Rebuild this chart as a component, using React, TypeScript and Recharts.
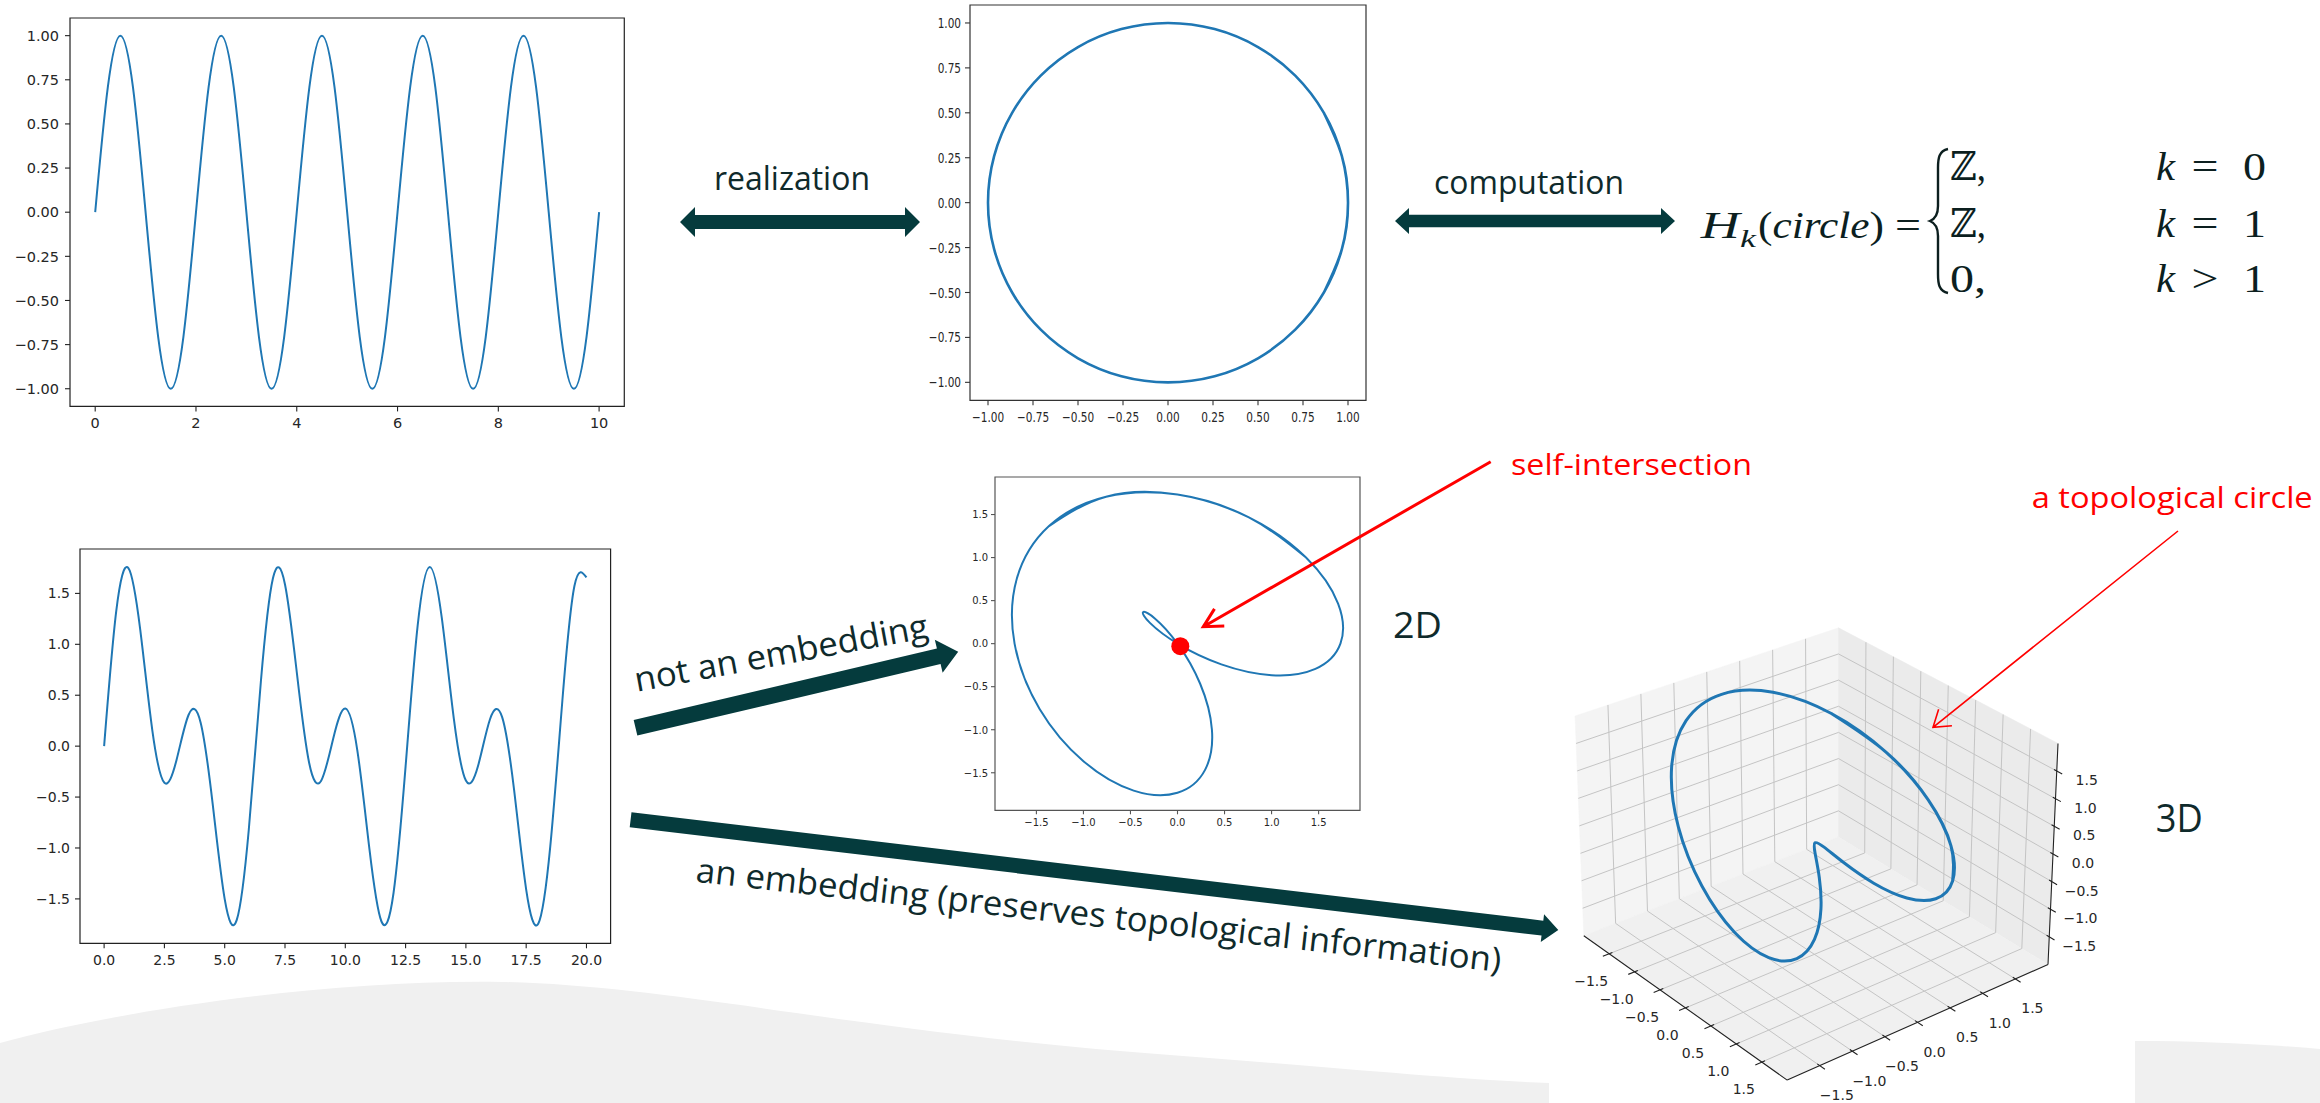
import React from "react";
import {
  LineChart,
  Line,
  XAxis,
  YAxis,
  ReferenceArea,
  ReferenceDot,
  ScatterChart,
  Scatter,
} from "recharts";

// ---- data -------------------------------------------------------------

// periodic signal, sampled every quarter unit
const waveT = [
  0, 0.25, 0.5, 0.75, 1, 1.25, 1.5, 1.75, 2, 2.25, 2.5, 2.75, 3, 3.25, 3.5, 3.75, 4, 4.25, 4.5, 4.75, 5,
  5.25, 5.5, 5.75, 6, 6.25, 6.5, 6.75, 7, 7.25, 7.5, 7.75, 8, 8.25, 8.5, 8.75, 9, 9.25, 9.5, 9.75, 10,
];
const waveY = [
  0, 0.707, 1, 0.707, 0, -0.707, -1, -0.707,
  0, 0.707, 1, 0.707, 0, -0.707, -1, -0.707,
  0, 0.707, 1, 0.707, 0, -0.707, -1, -0.707,
  0, 0.707, 1, 0.707, 0, -0.707, -1, -0.707,
  0, 0.707, 1, 0.707, 0, -0.707, -1, -0.707,
  0,
];

// its realization as a circle (15 degree steps, a little overlap to close the loop)
const circleX = [
  0.866, 0.966, 1, 0.966, 0.866, 0.707, 0.5, 0.259, 0, -0.259, -0.5, -0.707, -0.866, -0.966, -1,
  -0.966, -0.866, -0.707, -0.5, -0.259, 0, 0.259, 0.5, 0.707, 0.866, 0.966, 1, 0.966, 0.866,
];
const circleY = [
  -0.5, -0.259, 0, 0.259, 0.5, 0.707, 0.866, 0.966, 1, 0.966, 0.866, 0.707, 0.5, 0.259, 0,
  -0.259, -0.5, -0.707, -0.866, -0.966, -1, -0.966, -0.866, -0.707, -0.5, -0.259, 0, 0.259, 0.5,
];

// two-frequency signal, sampled every half unit
const signalT = [
  0, 0.5, 1, 1.5, 2, 2.5, 3, 3.5, 4, 4.5, 5, 5.5, 6, 6.5, 7, 7.5, 8, 8.5, 9, 9.5, 10,
  10.5, 11, 11.5, 12, 12.5, 13, 13.5, 14, 14.5, 15, 15.5, 16, 16.5, 17, 17.5, 18, 18.5, 19, 19.5, 20,
];
const signalY = [
  0, 1.321, 1.751, 1.139, 0.153, -0.36, -0.138, 0.306, 0.233, -0.565, -1.503, -1.706, -0.816, 0.635,
  1.648, 1.588, 0.702, -0.163, -0.339, 0.075, 0.369, -0.043, -1.009, -1.722, -1.442, -0.199, 1.183,
  1.76, 1.262, 0.271, -0.338, -0.198, 0.264, 0.287, -0.432, -1.408, -1.743, -0.982, 0.446, 1.572, 1.658,
];

// delay coordinates of the signal over one period (15 degree steps, overlapping ends)
const embedX = [
  -1.366, -0.759, 0, 0.759, 1.366, 1.707, 1.732, 1.466, 1, 0.466, 0, -0.293, -0.366, -0.241, 0,
  0.241, 0.366, 0.293, 0, -0.466, -1, -1.466, -1.732, -1.707, -1.366, -0.759, 0, 0.759, 1.366,
];
const embedY = [
  1.366, 1.707, 1.732, 1.466, 1, 0.466, 0, -0.293, -0.366, -0.241, 0, 0.241, 0.366, 0.293, 0,
  -0.466, -1, -1.466, -1.732, -1.707, -1.366, -0.759, 0, 0.759, 1.366, 1.707, 1.732, 1.466, 1,
];
const embedZ = [
  1, 0.466, 0, -0.293, -0.366, -0.241, 0, 0.241, 0.366, 0.293, 0, -0.466, -1, -1.466, -1.732,
  -1.707, -1.366, -0.759, 0, 0.759, 1.366, 1.707, 1.732, 1.466, 1, 0.466, 0, -0.293, -0.366,
];
const crossing = { x: 0.03, y: -0.03 };

const waveTicksX = [0, 2, 4, 6, 8, 10];
const unitTicks = [-1, -0.75, -0.5, -0.25, 0, 0.25, 0.5, 0.75, 1];
const signalTicksX = [0, 2.5, 5, 7.5, 10, 12.5, 15, 17.5, 20];
const halfTicks = [-1.5, -1, -0.5, 0, 0.5, 1, 1.5];

// ---- 2D panels ------------------------------------------------------------

const TICK_FONT = "'DejaVu Sans', sans-serif";
const BLUE = "#1f77b4";

function fmt(v: number, digits: number) {
  const s = Math.abs(v).toFixed(digits);
  return v < 0 ? "\u2212" + s : s;
}

function makeTick(kind: "x" | "y", digits: number, size: number, squeeze: number) {
  return (props: any) => {
    const { x, y, payload } = props;
    return (
      <g transform={`translate(${x},${y}) scale(${squeeze},1)`}>
        <text
          x={0}
          y={0}
          dy={kind === "x" ? "0.76em" : "0.36em"}
          textAnchor={kind === "x" ? "middle" : "end"}
          fontFamily={TICK_FONT}
          fontSize={size}
          fill="#262626"
        >
          {fmt(payload.value, digits)}
        </text>
      </g>
    );
  };
}

type Box = { x: number; y: number; w: number; h: number };
type PanelProps = {
  box: Box;
  data: { x: number; y: number }[];
  xDomain: [number, number];
  yDomain: [number, number];
  xTicks: number[];
  yTicks: number[];
  digitsX: number;
  digitsY: number;
  font: number;
  squeeze?: number;
  tick: number;
  gapX: number;
  gapY: number;
  frame: string;
  lineWidth: number;
  children?: React.ReactNode;
};

const AX_W = 70;
const AX_H = 34;
const PAD_L = 80;
const PAD_T = 12;
const PAD_R = 12;
const PAD_B = 44;

function Panel(p: PanelProps) {
  const sq = p.squeeze ?? 1;
  return (
    <div style={{ position: "absolute", left: p.box.x - PAD_L, top: p.box.y - PAD_T }}>
      <LineChart
        width={p.box.w + PAD_L + PAD_R}
        height={p.box.h + PAD_T + PAD_B}
        data={p.data}
        margin={{ top: PAD_T, right: PAD_R, bottom: PAD_B - AX_H, left: PAD_L - AX_W }}
      >
        <XAxis
          type="number"
          dataKey="x"
          domain={p.xDomain}
          ticks={p.xTicks}
          interval={0}
          allowDataOverflow
          height={AX_H}
          axisLine={false}
          tickSize={p.tick}
          tickMargin={p.gapX}
          tickLine={{ stroke: p.frame, strokeWidth: 1.1 }}
          tick={makeTick("x", p.digitsX, p.font, sq)}
        />
        <YAxis
          type="number"
          domain={p.yDomain}
          ticks={p.yTicks}
          interval={0}
          allowDataOverflow
          width={AX_W}
          axisLine={false}
          tickSize={p.tick}
          tickMargin={p.gapY}
          tickLine={{ stroke: p.frame, strokeWidth: 1.1 }}
          tick={makeTick("y", p.digitsY, p.font, sq)}
        />
        <ReferenceArea
          x1={p.xDomain[0]}
          x2={p.xDomain[1]}
          y1={p.yDomain[0]}
          y2={p.yDomain[1]}
          fill="none"
          stroke={p.frame}
          strokeWidth={1.2}
          ifOverflow="visible"
        />
        <Line
          dataKey="y"
          type="natural"
          stroke={BLUE}
          strokeWidth={p.lineWidth}
          dot={false}
          isAnimationActive={false}
        />
        {p.children}
      </LineChart>
    </div>
  );
}

// ---- 3D panel -------------------------------------------------------------

const PANE = 2; // half extent of the 3D panes in data units
// screen position of each corner of the 3D box, keyed by the sign of x, y, z
const CORNER: Record<string, [number, number]> = {
  "---": [1583.8, 935.7],
  "+--": [1787.2, 1080.1],
  "++-": [2048, 964.5],
  "-+-": [1838.5, 837],
  "--+": [1575, 716],
  "+-+": [1791, 838],
  "+++": [2058, 743.4],
  "-++": [1838.5, 627.8],
};

function lerp(a: [number, number], b: [number, number], t: number): [number, number] {
  return [a[0] + (b[0] - a[0]) * t, a[1] + (b[1] - a[1]) * t];
}

function project(x: number, y: number, z: number) {
  const u = (x + PANE) / (2 * PANE);
  const v = (y + PANE) / (2 * PANE);
  const w = (z + PANE) / (2 * PANE);
  const a = lerp(CORNER["---"], CORNER["+--"], u);
  const b = lerp(CORNER["-+-"], CORNER["++-"], u);
  const c = lerp(CORNER["--+"], CORNER["+-+"], u);
  const d = lerp(CORNER["-++"], CORNER["+++"], u);
  const p = lerp(lerp(a, b, v), lerp(c, d, v), w);
  return { x: p[0], y: p[1] };
}

const noMarker = () => <g />;

function segments(stroke: string, width: number) {
  return (props: any) => {
    const pts = props.points || [];
    let d = "";
    for (let i = 0; i + 1 < pts.length; i += 2) {
      d += `M${pts[i].x},${pts[i].y}L${pts[i + 1].x},${pts[i + 1].y}`;
    }
    return <path d={d} stroke={stroke} strokeWidth={width} fill="none" />;
  };
}

const LABEL_OFFSET: Record<string, [number, number]> = {
  x: [-18, 27],
  y: [17, 29.5],
  z: [30, 9],
};

function tickLabel3d(props: any) {
  const { cx, cy, payload } = props;
  const [dx, dy] = LABEL_OFFSET[payload.axis];
  return (
    <text
      x={cx + dx}
      y={cy + dy}
      dy="0.36em"
      textAnchor="middle"
      fontFamily={TICK_FONT}
      fontSize={14}
      fill="#262626"
    >
      {fmt(payload.value, 1)}
    </text>
  );
}

const V_LEFT = 1549;
const V_TOP = 560;
const V_W = 620;
const V_H = 543;

function Cube() {
  const L = PANE;
  const P = project;
  const panes = [
    { fill: "#f4f4f4", pts: [P(-L, -L, -L), P(-L, L, -L), P(-L, L, L), P(-L, -L, L)] },
    { fill: "#ebebeb", pts: [P(-L, L, -L), P(L, L, -L), P(L, L, L), P(-L, L, L)] },
    { fill: "#f0f0f0", pts: [P(-L, -L, -L), P(L, -L, -L), P(L, L, -L), P(-L, L, -L)] },
  ];

  const grid: { x: number; y: number }[] = [];
  halfTicks.forEach((t) => {
    grid.push(P(t, -L, -L), P(t, L, -L));
    grid.push(P(-L, t, -L), P(L, t, -L));
    grid.push(P(-L, t, -L), P(-L, t, L));
    grid.push(P(-L, -L, t), P(-L, L, t));
    grid.push(P(t, L, -L), P(t, L, L));
    grid.push(P(-L, L, t), P(L, L, t));
  });

  const axes = [P(-L, -L, -L), P(L, -L, -L), P(L, -L, -L), P(L, L, -L), P(L, L, -L), P(L, L, L)];

  const tickSegs: { x: number; y: number }[] = [];
  const labels: { x: number; y: number; axis: string; value: number }[] = [];
  halfTicks.forEach((t) => {
    tickSegs.push(P(t, -L + 0.05, -L), P(t, -L - 0.1, -L));
    tickSegs.push(P(L - 0.05, t, -L), P(L + 0.1, t, -L));
    tickSegs.push(P(L - 0.05, L, t), P(L + 0.1, L, t));
    labels.push({ ...P(t, -L, -L), axis: "x", value: t });
    labels.push({ ...P(L, t, -L), axis: "y", value: t });
    labels.push({ ...P(L, L, t), axis: "z", value: t });
  });

  const curve = embedX.map((x, i) => P(x, embedY[i], embedZ[i]));

  return (
    <div style={{ position: "absolute", left: V_LEFT, top: V_TOP }}>
      <ScatterChart width={V_W} height={V_H} margin={{ top: 0, right: 0, bottom: 0, left: 0 }}>
        <XAxis type="number" dataKey="x" domain={[V_LEFT, V_LEFT + V_W]} hide />
        <YAxis type="number" dataKey="y" domain={[V_TOP, V_TOP + V_H]} reversed hide />
        {panes.map((p, i) => (
          <Scatter
            key={i}
            data={p.pts}
            shape={noMarker}
            line={{ fill: p.fill, stroke: p.fill, strokeWidth: 0.5 }}
            lineJointType="linearClosed"
            isAnimationActive={false}
          />
        ))}
        <Scatter data={grid} shape={noMarker} line={segments("#c4c4c4", 1)} isAnimationActive={false} />
        <Scatter data={axes} shape={noMarker} line={segments("#222", 1.1)} isAnimationActive={false} />
        <Scatter data={tickSegs} shape={noMarker} line={segments("#222", 1.1)} isAnimationActive={false} />
        <Scatter data={labels} shape={tickLabel3d} isAnimationActive={false} />
        <Scatter
          data={curve}
          shape={noMarker}
          line={{ stroke: BLUE, strokeWidth: 3 }}
          lineJointType="natural"
          isAnimationActive={false}
        />
      </ScatterChart>
    </div>
  );
}

// ---- slide decoration ------------------------------------------------------

const ARROW = "#053b3d";
const INK = "#0f2a2b";
const RED = "#ff0000";
const SANS = "'Open Sans', 'Noto Sans', sans-serif";
const SERIF = "'Liberation Serif', 'DejaVu Serif', serif";

type Pt = [number, number];

function arrowPoints(tail: Pt, tip: Pt, shaft: number, head: number, headLen: number) {
  const dx = tip[0] - tail[0];
  const dy = tip[1] - tail[1];
  const len = Math.hypot(dx, dy);
  const ux = dx / len;
  const uy = dy / len;
  const nx = -uy;
  const ny = ux;
  const bx = tip[0] - ux * headLen;
  const by = tip[1] - uy * headLen;
  const pts: Pt[] = [
    [tail[0] + nx * shaft, tail[1] + ny * shaft],
    [bx + nx * shaft, by + ny * shaft],
    [bx + nx * head, by + ny * head],
    tip,
    [bx - nx * head, by - ny * head],
    [bx - nx * shaft, by - ny * shaft],
    [tail[0] - nx * shaft, tail[1] - ny * shaft],
  ];
  return pts.map((p) => p.join(",")).join(" ");
}

function doubleArrow(x1: number, x2: number, y: number, shaft: number, head: number, headLen: number) {
  const pts: Pt[] = [
    [x1, y],
    [x1 + headLen, y - head],
    [x1 + headLen, y - shaft],
    [x2 - headLen, y - shaft],
    [x2 - headLen, y - head],
    [x2, y],
    [x2 - headLen, y + head],
    [x2 - headLen, y + shaft],
    [x1 + headLen, y + shaft],
    [x1 + headLen, y + head],
  ];
  return pts.map((p) => p.join(",")).join(" ");
}

function openArrow(from: Pt, tip: Pt, arm: number, deg: number) {
  const a = Math.atan2(from[1] - tip[1], from[0] - tip[0]);
  const r = (deg * Math.PI) / 180;
  const p1: Pt = [tip[0] + arm * Math.cos(a + r), tip[1] + arm * Math.sin(a + r)];
  const p2: Pt = [tip[0] + arm * Math.cos(a - r), tip[1] + arm * Math.sin(a - r)];
  return `M${from.join(",")}L${tip.join(",")}M${p1.join(",")}L${tip.join(",")}L${p2.join(",")}`;
}

function Backdrop() {
  return (
    <svg width={2320} height={1103} style={{ position: "absolute", left: 0, top: 0 }}>
      <path
        d="M0,1043 C120,1010 330,979 503,982 C680,986 860,1033 1183,1056 C1330,1067 1460,1080 1549,1083 L1549,1103 L0,1103 Z"
        fill="#f0f0f0"
      />
      <path d="M2135,1041 C2200,1041 2262,1044 2320,1049 L2320,1103 L2135,1103 Z" fill="#f0f0f0" />
    </svg>
  );
}

const caseRows = [
  { base: 180, group: "\u2124,", rel: "=", k: "0" },
  { base: 236.7, group: "\u2124,", rel: "=", k: "1" },
  { base: 291.7, group: "0,", rel: ">", k: "1" },
];

function Overlay() {
  const fit = { lengthAdjust: "spacingAndGlyphs" as const };
  return (
    <svg width={2320} height={1103} style={{ position: "absolute", left: 0, top: 0 }}>
      {/* realization / computation */}
      <polygon points={doubleArrow(680, 920, 222, 7, 15, 15)} fill={ARROW} />
      <text x={714} y={190} fontSize={32} fontFamily={SANS} fill={INK} textLength={156} {...fit}>
        realization
      </text>
      <polygon points={doubleArrow(1395, 1675, 221, 6.3, 13, 14)} fill={ARROW} />
      <text x={1434} y={194} fontSize={32} fontFamily={SANS} fill={INK} textLength={190} {...fit}>
        computation
      </text>

      {/* homology of the circle */}
      <g fontFamily={SERIF} fill="#0c1f1f">
        <text x={1700.7} y={238.3} fontSize={37} fontStyle="italic" textLength={39} {...fit}>
          H
        </text>
        <text x={1740} y={247} fontSize={25} fontStyle="italic" textLength={16} {...fit}>
          k
        </text>
        <text x={1758} y={238.3} fontSize={37} textLength={126} {...fit}>
          (<tspan fontStyle="italic">circle</tspan>)
        </text>
        <text x={1895} y={238.3} fontSize={37} textLength={26} {...fit}>
          =
        </text>
        {caseRows.map((r) => (
          <g key={r.base}>
            <text x={1950} y={r.base} fontSize={40} textLength={36} {...fit}>
              {r.group}
            </text>
            <text x={2156} y={r.base} fontSize={40} fontStyle="italic" textLength={19} {...fit}>
              k
            </text>
            <text x={2205} y={r.base} fontSize={40} textAnchor="middle" textLength={27} {...fit}>
              {r.rel}
            </text>
            <text x={2243} y={r.base} fontSize={40} textLength={23} {...fit}>
              {r.k}
            </text>
          </g>
        ))}
      </g>
      <path
        d="M1948,149 C1939,151 1938,158 1938,168 L1938,206 C1938,215 1935,219 1930,221 C1935,223 1938,227 1938,236 L1938,274 C1938,284 1939,291 1948,293"
        fill="none"
        stroke="#0c1f1f"
        strokeWidth={2.4}
      />

      {/* embedding arrows */}
      <polygon points={arrowPoints([635.5, 727.7], [958.2, 651.7], 8, 17, 20)} fill={ARROW} />
      <text
        transform="translate(636.7,691.7) rotate(-10.5)"
        fontSize={34}
        fontFamily={SANS}
        fill={INK}
        textLength={298}
        {...fit}
      >
        not an embedding
      </text>
      <polygon points={arrowPoints([630.6, 819.8], [1558.3, 930], 7.5, 14, 16)} fill={ARROW} />
      <text
        transform="translate(695,881.7) rotate(6.4)"
        fontSize={34}
        fontFamily={SANS}
        fill={INK}
        textLength={810}
        {...fit}
      >
        an embedding (preserves topological information)
      </text>

      <text x={1393} y={638} fontSize={36} fontFamily={SANS} fill={INK} textLength={49} {...fit}>
        2D
      </text>
      <text x={2155.8} y={831.8} fontSize={38} fontFamily={SANS} fill={INK} textLength={47} {...fit}>
        3D
      </text>

      {/* annotations */}
      <text x={1511} y={475} fontSize={30} fontFamily={SANS} fill={RED} textLength={241} {...fit}>
        self-intersection
      </text>
      <path d={openArrow([1490.7, 461.7], [1203.3, 626.7], 21, 28)} fill="none" stroke={RED} strokeWidth={3} />
      <text x={2031.7} y={508.3} fontSize={30} fontFamily={SANS} fill={RED} textLength={281} {...fit}>
        a topological circle
      </text>
      <path d={openArrow([2178, 531], [1933, 727.3], 19, 34)} fill="none" stroke={RED} strokeWidth={1.6} />
    </svg>
  );
}

// ---- page -------------------------------------------------------------------

const waveData = waveT.map((t, i) => ({ x: t, y: waveY[i] }));
const circleData = circleX.map((x, i) => ({ x, y: circleY[i] }));
const signalData = signalT.map((t, i) => ({ x: t, y: signalY[i] }));
const embedData = embedX.map((x, i) => ({ x, y: embedY[i] }));

export default function App() {
  return (
    <div
      style={{
        position: "absolute",
        left: 0,
        top: 0,
        width: 2320,
        height: 1103,
        overflow: "hidden",
        background: "#ffffff",
      }}
    >
      <Backdrop />
      <Panel
        box={{ x: 70.2, y: 18.3, w: 554.3, h: 388.4 }}
        data={waveData}
        xDomain={[-0.5, 10.5]}
        yDomain={[-1.1, 1.1]}
        xTicks={waveTicksX}
        yTicks={unitTicks}
        digitsX={0}
        digitsY={2}
        font={14.5}
        tick={5}
        gapX={6}
        gapY={6}
        frame="#222"
        lineWidth={2}
      />
      <Panel
        box={{ x: 970, y: 4.7, w: 396, h: 395.3 }}
        data={circleData}
        xDomain={[-1.1, 1.1]}
        yDomain={[-1.1, 1.1]}
        xTicks={unitTicks}
        yTicks={unitTicks}
        digitsX={2}
        digitsY={2}
        font={14}
        squeeze={0.75}
        tick={5}
        gapX={6}
        gapY={4}
        frame="#333"
        lineWidth={2.6}
      />
      <Panel
        box={{ x: 80.4, y: 549, w: 530.6, h: 394.3 }}
        data={signalData}
        xDomain={[-1, 21]}
        yDomain={[-1.936, 1.936]}
        xTicks={signalTicksX}
        yTicks={halfTicks}
        digitsX={1}
        digitsY={1}
        font={14}
        tick={5}
        gapX={6}
        gapY={5}
        frame="#222"
        lineWidth={2}
      />
      <Panel
        box={{ x: 995, y: 476.7, w: 365, h: 333.3 }}
        data={embedData}
        xDomain={[-1.94, 1.94]}
        yDomain={[-1.936, 1.936]}
        xTicks={halfTicks}
        yTicks={halfTicks}
        digitsX={1}
        digitsY={1}
        font={10.5}
        squeeze={0.95}
        tick={4}
        gapX={4}
        gapY={3}
        frame="#555"
        lineWidth={2}
      >
        <ReferenceDot x={crossing.x} y={crossing.y} r={9} fill={RED} stroke="none" ifOverflow="visible" />
      </Panel>
      <Cube />
      <Overlay />
    </div>
  );
}
